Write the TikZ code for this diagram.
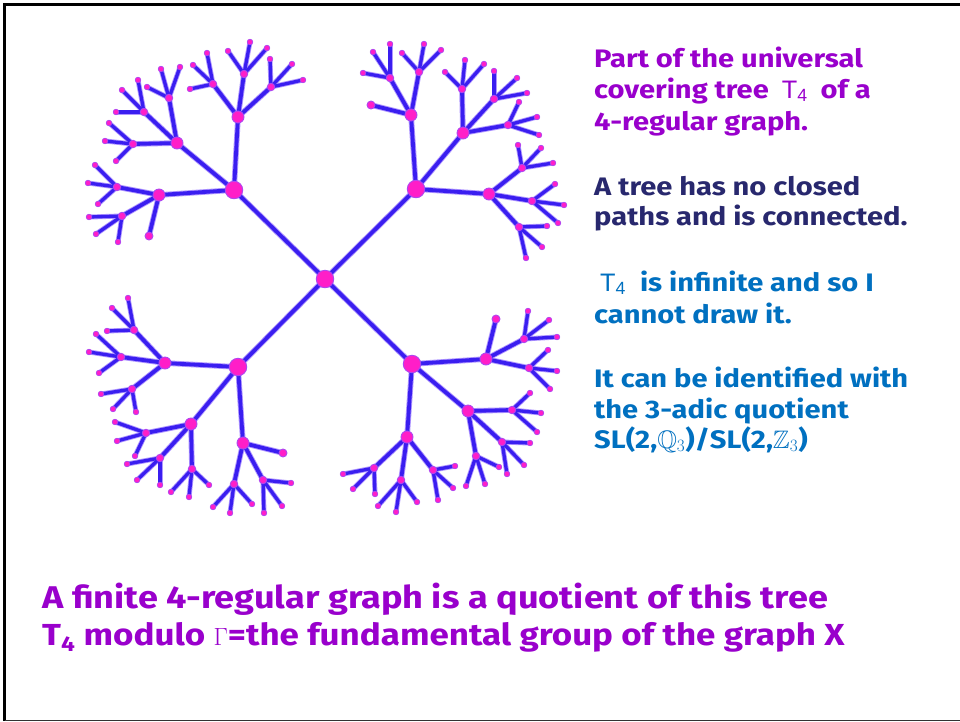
\documentclass[tikz,border=0pt]{standalone}
\usepackage{amssymb}
\usepackage{fontspec}
\setmainfont{Fira Sans}[FakeStretch=1.15]
\newfontfamily\tfont{Liberation Sans}
\usetikzlibrary{backgrounds}
\definecolor{edgeblue}{RGB}{58,30,240}
\definecolor{halocol}{RGB}{175,150,255}
\definecolor{dotpink}{RGB}{255,30,200}
\definecolor{dotrim}{RGB}{175,70,240}
\definecolor{txtpurple}{RGB}{153,0,204}
\definecolor{txtnavy}{RGB}{40,40,110}
\definecolor{txtblue}{RGB}{0,112,192}
\newcommand{\Tfour}{{\tfont\mdseries T\textsubscript{4}}}
\begin{document}
\begin{tikzpicture}[x=1pt,y=-1pt,
  dot/.style={circle, fill=dotpink, draw=dotrim, line width=0.9pt, inner sep=0pt},
  dA/.style={dot, minimum size=17.5pt},
  dB/.style={dot, minimum size=12pt},
  dL/.style={dot, minimum size=8pt},
  dC/.style={dot, minimum size=7.5pt},
  dD/.style={dot, minimum size=5.6pt, line width=0.7pt},
  txt/.style={anchor=base west, inner sep=0pt, font=\fontsize{25.3}{29}\selectfont\bfseries},
  btxt/.style={anchor=base west, inner sep=0pt, font=\fontsize{31.4}{35}\selectfont\bfseries, text=txtpurple}]
\useasboundingbox (0,0) rectangle (960,721);
\draw[line width=3pt] (4.5,721) -- (4.5,4.2) -- (960,4.2);
\draw[line width=1pt, black!80] (4.5,720) -- (960,720);
% centre and first level
\node[dA] (c) at (325,279) {};
\node[dA] (a) at (234,190) {};
\node[dA] (b) at (416,189) {};
\node[dA] (d) at (238,367) {};
\node[dA] (e) at (412,364) {};
% top-left
\node[dB] (a1) at (238,117) {};
\node[dB] (a2) at (177,143) {};
\node[dB] (a3) at (159,195) {};
\node[dC] (a11) at (213,84) {}; \node[dC] (a12) at (244,74) {}; \node[dC] (a13) at (271,87) {};
\node[dC] (a21) at (169,98) {}; \node[dC] (a22) at (144,112) {}; \node[dC] (a23) at (133,144) {};
\node[dC] (a31) at (117,187) {}; \node[dC] (a32) at (122,216) {}; \node[dL] (a33) at (149,236) {};
\node[dD] (a111) at (190,89) {}; \node[dD] (a112) at (193,65) {}; \node[dD] (a113) at (207,53) {};
\node[dD] (a121) at (228,51) {}; \node[dD] (a122) at (250,42) {}; \node[dD] (a123) at (267,48) {};
\node[dD] (a131) at (270,59) {}; \node[dD] (a132) at (292,64) {}; \node[dD] (a133) at (303,80) {};
\node[dD] (a211) at (147,87) {}; \node[dD] (a212) at (161,69) {}; \node[dD] (a213) at (180,67) {};
\node[dD] (a221) at (116,112) {}; \node[dD] (a222) at (122,90) {}; \node[dD] (a223) at (138,80) {};
\node[dD] (a231) at (105,141) {}; \node[dD] (a232) at (109,123) {}; \node[dD] (a233) at (116,161) {};
\node[dD] (a311) at (95,165) {}; \node[dD] (a312) at (88,183) {}; \node[dD] (a313) at (98,204) {};
\node[dD] (a321) at (89,217) {}; \node[dD] (a322) at (96,234) {}; \node[dD] (a323) at (118,242) {};
% top-right
\node[dB] (b1) at (411,115) {};
\node[dB] (b2) at (463,133) {};
\node[dB] (b3) at (489,194) {};
\node[dC] (b11) at (390,78) {}; \node[dC] (b12) at (419,72) {}; \node[dL] (b13) at (371,105) {};
\node[dC] (b21) at (462,89) {}; \node[dC] (b22) at (494,99) {}; \node[dC] (b23) at (508,125) {};
\node[dC] (b31) at (522,168) {}; \node[dC] (b32) at (532,201) {}; \node[dC] (b33) at (519,227) {};
\node[dD] (b111) at (363,73) {}; \node[dD] (b112) at (373,52) {}; \node[dD] (b113) at (390,44) {};
\node[dD] (b121) at (402,53) {}; \node[dD] (b122) at (424,44) {}; \node[dD] (b123) at (441,50) {};
\node[dD] (b211) at (445,72) {}; \node[dD] (b212) at (465,60) {}; \node[dD] (b213) at (484,64) {};
\node[dD] (b221) at (494,71) {}; \node[dD] (b222) at (517,78) {}; \node[dD] (b223) at (527,93) {};
\node[dD] (b231) at (519,102) {}; \node[dD] (b232) at (537,117) {}; \node[dD] (b233) at (539,135) {};
\node[dD] (b311) at (518,145) {}; \node[dD] (b312) at (541,148) {}; \node[dD] (b313) at (553,163) {};
\node[dD] (b321) at (555,184) {}; \node[dD] (b322) at (564,205) {}; \node[dD] (b323) at (558,223) {};
\node[dD] (b331) at (547,226) {}; \node[dD] (b332) at (542,247) {}; \node[dD] (b333) at (526,258) {};
% bottom-left
\node[dB] (d1) at (165,363) {};
\node[dB] (d2) at (191,424) {};
\node[dB] (d3) at (243,443) {};
\node[dC] (d11) at (134,330) {}; \node[dC] (d12) at (121,357) {}; \node[dC] (d13) at (132,389) {};
\node[dC] (d21) at (146,433) {}; \node[dC] (d22) at (160,458) {}; \node[dC] (d23) at (192,469) {};
\node[dL] (d31) at (283,453) {}; \node[dC] (d32) at (234,484) {}; \node[dC] (d33) at (263,480) {};
\node[dD] (d111) at (128,298) {}; \node[dD] (d112) at (112,308) {}; \node[dD] (d113) at (107,331) {};
\node[dD] (d121) at (96,334) {}; \node[dD] (d122) at (89,352) {}; \node[dD] (d123) at (99,373) {};
\node[dD] (d131) at (101,394) {}; \node[dD] (d132) at (113,409) {}; \node[dD] (d133) at (136,412) {};
\node[dD] (d211) at (115,422) {}; \node[dD] (d212) at (117,441) {}; \node[dD] (d213) at (135,456) {};
\node[dD] (d221) at (127,464) {}; \node[dD] (d222) at (137,480) {}; \node[dD] (d223) at (160,485) {};
\node[dD] (d231) at (171,492) {}; \node[dD] (d232) at (189,497) {}; \node[dD] (d233) at (209,485) {};
\node[dD] (d321) at (213,507) {}; \node[dD] (d322) at (230,513) {}; \node[dD] (d323) at (252,504) {};
\node[dD] (d331) at (264,513) {}; \node[dD] (d332) at (282,506) {}; \node[dD] (d333) at (291,483) {};
% bottom-right
\node[dB] (e1) at (486,359) {};
\node[dB] (e2) at (468,411) {};
\node[dB] (e3) at (407,437) {};
\node[dL] (e11) at (496,319) {}; \node[dC] (e12) at (524,339) {}; \node[dC] (e13) at (529,368) {};
\node[dC] (e21) at (512,410) {}; \node[dC] (e22) at (502,442) {}; \node[dC] (e23) at (476,456) {};
\node[dC] (e31) at (374,468) {}; \node[dC] (e32) at (401,480) {}; \node[dC] (e33) at (433,470) {};
\node[dD] (e121) at (528,311) {}; \node[dD] (e122) at (549,320) {}; \node[dD] (e123) at (557,337) {};
\node[dD] (e131) at (548,350) {}; \node[dD] (e132) at (557,371) {}; \node[dD] (e133) at (550,389) {};
\node[dD] (e211) at (530,393) {}; \node[dD] (e212) at (541,413) {}; \node[dD] (e213) at (537,432) {};
\node[dD] (e221) at (530,443) {}; \node[dD] (e222) at (524,465) {}; \node[dD] (e223) at (507,474) {};
\node[dD] (e231) at (499,467) {}; \node[dD] (e232) at (485,484) {}; \node[dD] (e233) at (466,486) {};
\node[dD] (e311) at (343,474) {}; \node[dD] (e312) at (353,489) {}; \node[dD] (e313) at (375,494) {};
\node[dD] (e321) at (378,506) {}; \node[dD] (e322) at (396,512) {}; \node[dD] (e323) at (417,502) {};
\node[dD] (e331) at (455,466) {}; \node[dD] (e332) at (453,488) {}; \node[dD] (e333) at (438,500) {};
% edges
\begin{pgfonlayer}{background}
\fill[white] (0,0) rectangle (960,721);
\foreach \w/\v/\cl in {5.6pt/5pt/halocol, 3.8pt/3.3pt/edgeblue}{
 \foreach \x in {a,b,d,e}{
  \draw[line width=\w, draw=\cl, line cap=round] (c.center) -- (\x.center);
  \foreach \i in {1,2,3}{
   \draw[line width=\w, draw=\cl, line cap=round] (\x.center) -- (\x\i.center);
   \foreach \j in {1,2,3}{
    \draw[line width=\w, draw=\cl, line cap=round] (\x\i.center) -- (\x\i\j.center);
    \ifcsname pgf@sh@ns@\x\i\j1\endcsname
     \foreach \k in {1,2,3}{
      \draw[line width=\v, draw=\cl, line cap=round] (\x\i\j.center) -- (\x\i\j\k.center);}
    \fi
   }}}}
\end{pgfonlayer}
% right texts
\node[txt, text=txtpurple] (t1) at (594,67) {Part of the universal};
\node[txt, text=txtpurple] (t2) at (594,98) {covering tree\hspace{13pt}\Tfour\hspace{13pt}of a};
\node[txt, text=txtpurple] (t3) at (594,130) {4-regular graph.};
\node[txt, text=txtnavy] (t4) at (594,195) {A tree has no closed};
\node[txt, text=txtnavy] (t5) at (594,225) {paths and is connected.};
\node[txt, text=txtblue] (t6) at (594,291) {\hspace{6pt}\Tfour\hspace{14pt}is infinite and so I};
\node[txt, text=txtblue] (t7) at (594,323) {cannot draw it.};
\node[txt, text=txtblue] (t8) at (594,387) {It can be identified with};
\node[txt, text=txtblue] (t9) at (594,418) {the 3-adic quotient};
\node[txt, text=txtblue] (t10) at (594,448) {SL(2,$\mathbb{Q}_3$)/SL(2,$\mathbb{Z}_3$)};
% bottom texts
\node[btxt] (b1t) at (42,608) {A finite 4-regular graph is a quotient of this tree};
\node[btxt, font=\fontsize{30.4}{35}\selectfont\bfseries] (b2t) at (42,645) {T\textsubscript{4} modulo $\Gamma$=the fundamental group of the graph X};
\end{tikzpicture}
\end{document}
